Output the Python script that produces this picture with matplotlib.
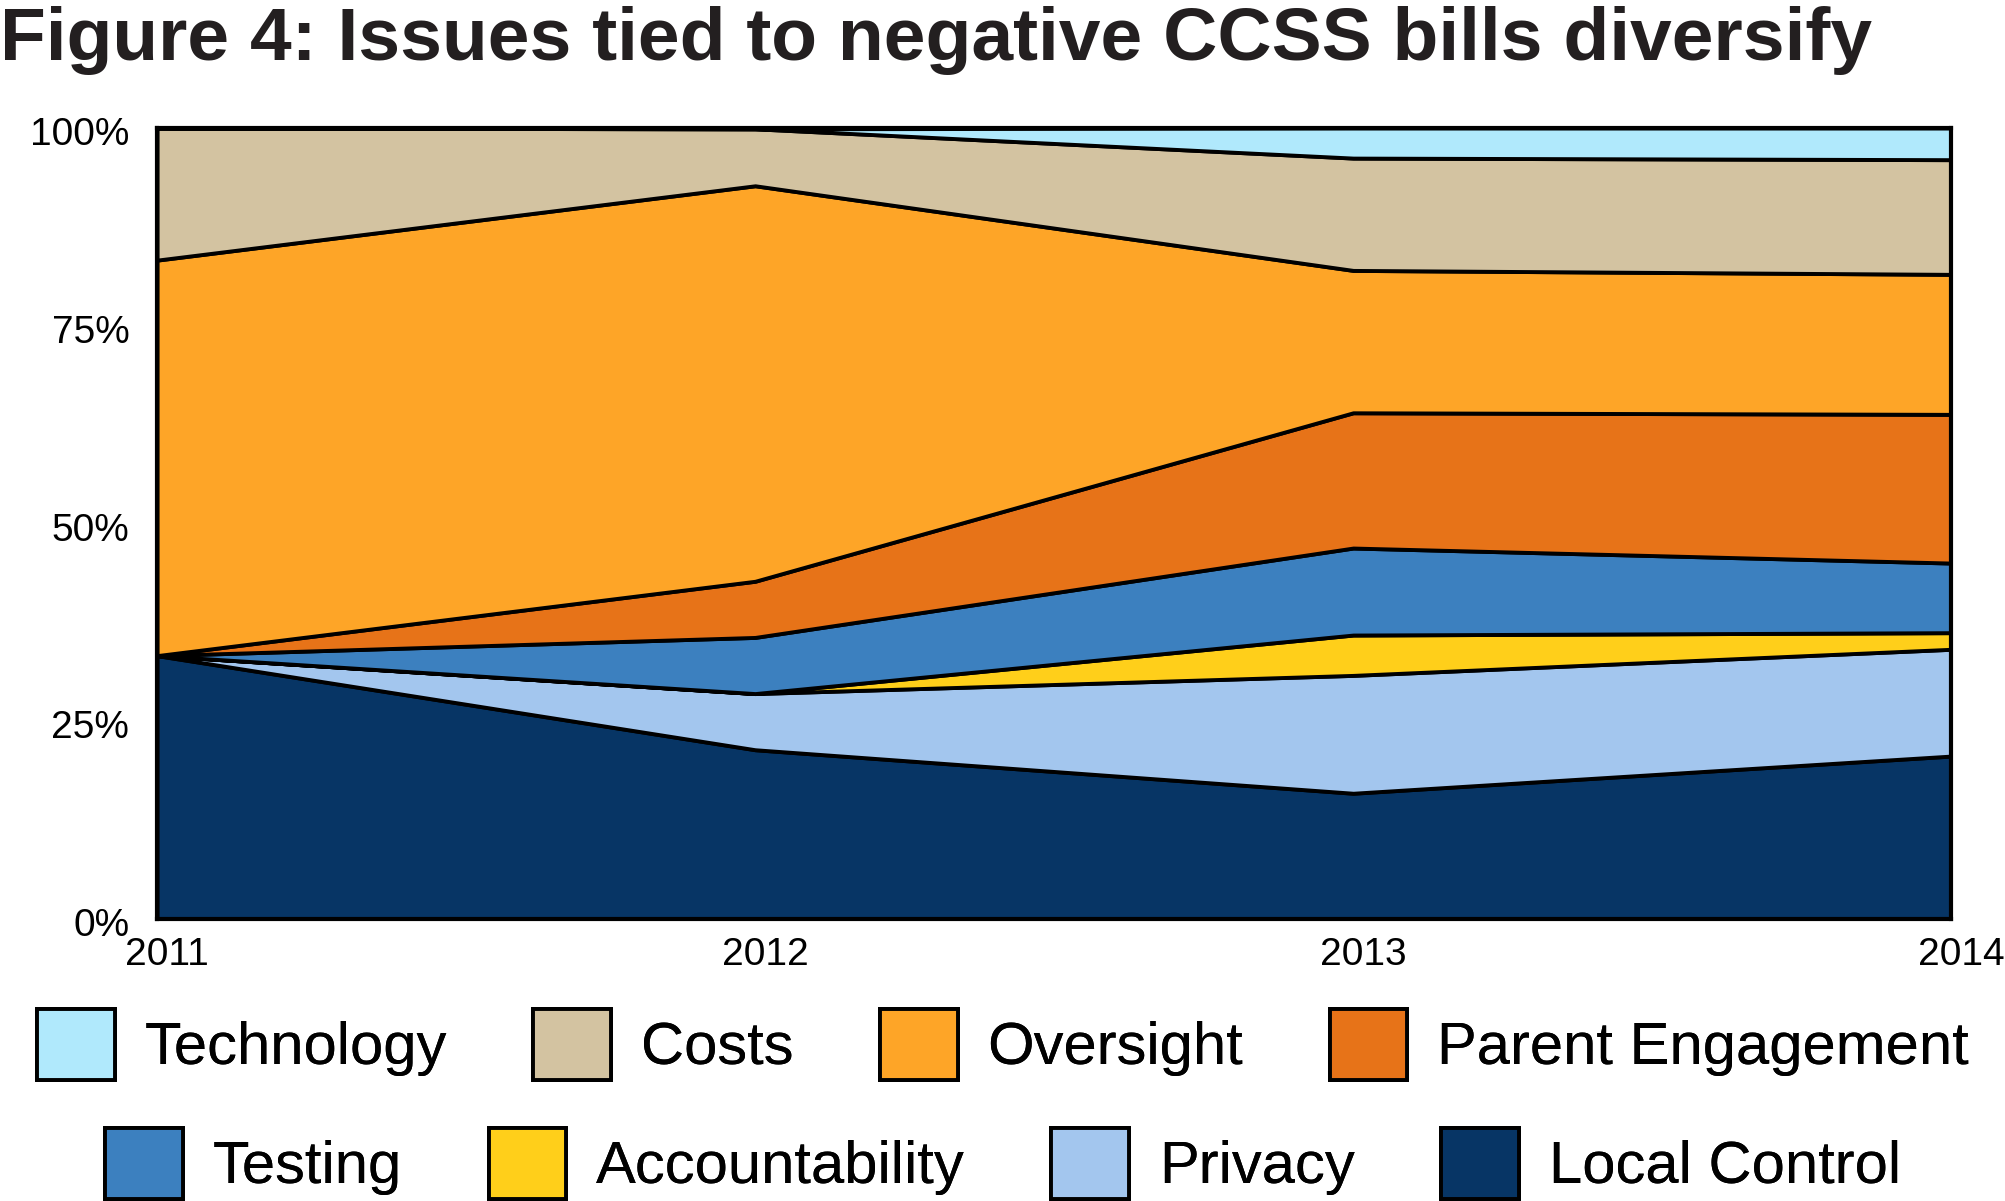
import matplotlib.pyplot as plt
import matplotlib.transforms as mtransforms
from matplotlib.patches import Patch
from matplotlib import font_manager

years = [2011, 2012, 2013, 2014]

# percent of negative CCSS bills, bottom of the stack first
local_control = [33.3, 21.4, 15.9, 20.6]
privacy = [0.0, 7.1, 14.9, 13.5]
accountability = [0.0, 0.0, 5.1, 2.1]
testing = [0.0, 7.1, 11.0, 8.8]
parent_engagement = [0.0, 7.1, 17.1, 18.8]
oversight = [50.0, 50.0, 18.0, 17.7]
costs = [16.7, 7.2, 14.2, 14.5]
technology = [0.0, 0.0, 3.8, 4.0]

names = ['Local Control', 'Privacy', 'Accountability', 'Testing',
         'Parent Engagement', 'Oversight', 'Costs', 'Technology']
colors = ['#073565', '#A3C6EE', '#FFCF1A', '#3C80BF',
          '#E77318', '#FEA527', '#D3C3A1', '#B0E9FC']

row1 = ['Technology', 'Costs', 'Oversight', 'Parent Engagement']
row2 = ['Testing', 'Accountability', 'Privacy', 'Local Control']

available = {f.name for f in font_manager.fontManager.ttflist}
narrow = 'Liberation Sans Narrow' if 'Liberation Sans Narrow' in available else 'Liberation Sans'
plt.rcParams['font.family'] = [narrow, 'DejaVu Sans']

fig = plt.figure(figsize=(20.06, 12.01), dpi=100)
ax = fig.add_axes([0.0783, 0.2348, 0.8944, 0.6586])

series = [local_control, privacy, accountability, testing,
          parent_engagement, oversight, costs, technology]
ax.stackplot(years, *series, colors=colors, edgecolor='black', linewidth=2.8)

ax.set_xlim(2011, 2014)
ax.set_ylim(0, 100)
ax.set_xticks(years)
ax.set_xticklabels([str(y) for y in years])
ax.set_yticks([0, 25, 50, 75, 100])
ax.set_yticklabels(['0%', '25%', '50%', '75%', '100%'])
ax.tick_params(axis='both', length=0, labelsize=28)
ax.tick_params(axis='y', pad=20)
ax.tick_params(axis='x', pad=13)
for lab in ax.get_xticklabels():
    lab.set_transform(lab.get_transform() + mtransforms.ScaledTranslation(0.1, 0, fig.dpi_scale_trans))
for lab in ax.get_yticklabels():
    lab.set_transform(lab.get_transform() + mtransforms.ScaledTranslation(0, -0.03, fig.dpi_scale_trans))
for s in ax.spines.values():
    s.set_linewidth(3)
    s.set_zorder(5)

fig.text(0.0, 0.966, 'Figure 4: Issues tied to negative CCSS bills diversify',
         fontsize=54, fontweight='bold', color='#231F20', ha='left', va='center',
         family=['Liberation Sans', 'DejaVu Sans'])

lookup = dict(zip(names, colors))
for labels, y in [(row1, 0.1305), (row2, 0.0315)]:
    handles = [Patch(facecolor=lookup[n], edgecolor='black', linewidth=2.8) for n in labels]
    leg = fig.legend(handles, labels, loc='center', bbox_to_anchor=(0.5, y), ncol=4,
                     frameon=False, fontsize=43, handlelength=1.3, handleheight=1.45,
                     handletextpad=0.5, columnspacing=1.45, borderpad=0)
    fig.add_artist(leg)

fig.savefig('out.png', dpi=100)
